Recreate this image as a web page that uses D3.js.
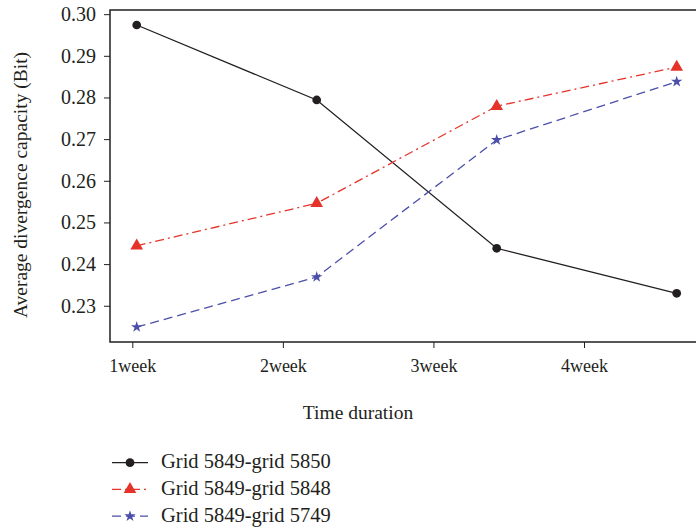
<!DOCTYPE html>
<html>
<head>
<meta charset="utf-8">
<script src="https://cdn.jsdelivr.net/npm/d3@7.9.0/dist/d3.min.js"></script>
<style>
  body { margin: 0; background: #fff; }
  svg text { font-family: "Liberation Serif", "DejaVu Serif", serif; fill: #231f20; }
</style>
</head>
<body>
<svg width="696" height="532"></svg>
<script>
// data
const weeks = ['1week', '2week', '3week', '4week'];
const yTicks = [0.23, 0.24, 0.25, 0.26, 0.27, 0.28, 0.29, 0.30];
const grid5850 = [0.2974, 0.2794, 0.2438, 0.2330];
const grid5848 = [0.2444, 0.2546, 0.2779, 0.2873];
const grid5749 = [0.2249, 0.2369, 0.2698, 0.2838];
const seriesNames = ['Grid 5849-grid 5850', 'Grid 5849-grid 5848', 'Grid 5849-grid 5749'];

const series = [
  { name: seriesNames[0], values: grid5850, color: '#231f20', dash: null, shape: d3.symbolCircle, size: 60 },
  { name: seriesNames[1], values: grid5848, color: '#e5332a', dash: '9,4,2,4', shape: d3.symbolTriangle, size: 70 },
  { name: seriesNames[2], values: grid5749, color: '#4b4faa', dash: '9,5', shape: d3.symbolStar, size: 40 }
];

const svg = d3.select('svg');
const mLeft = 110, mTop = 10, mBottom = 342, mRight = 700;

let y = d3.scaleLinear().domain([0.2213, 0.301]).range([mBottom, mTop]);
// points and tick labels do not line up in the original, so two x scales
let x = d3.scaleLinear().domain([0, 3]).range([136.7, 676.7]);
let xTick = d3.scalePoint().domain(weeks).range([132.3, 584]);

// frame (right edge falls outside the picture)
svg.append('path')
  .attr('d', `M${mRight},${mTop}H${mLeft}V${mBottom}H${mRight}`)
  .attr('fill', 'none').attr('stroke', '#231f20').attr('stroke-width', 1.5);

let yAxis = svg.append('g').attr('transform', `translate(${mLeft},0)`)
  .call(d3.axisLeft(y).tickValues(yTicks).tickFormat(d3.format('.2f')).tickSize(6).tickPadding(8));
yAxis.select('.domain').remove();
yAxis.selectAll('text').style('font-size', '20px');
yAxis.selectAll('line').attr('stroke', '#231f20');

let xAxis = svg.append('g').attr('transform', `translate(0,${mBottom})`)
  .call(d3.axisBottom(xTick).tickSize(6).tickPadding(11));
xAxis.select('.domain').remove();
xAxis.selectAll('text').style('font-size', '18px');
xAxis.selectAll('line').attr('stroke', '#231f20');

svg.append('text').attr('x', 358).attr('y', 419).attr('text-anchor', 'middle')
  .style('font-size', '19.5px').text('Time duration');
svg.append('text').attr('transform', 'translate(27,185) rotate(-90)').attr('text-anchor', 'middle')
  .style('font-size', '19.5px').text('Average divergence capacity (Bit)');

let line = d3.line().x((d, i) => x(i)).y(d => y(d));

series.forEach(s => {
  svg.append('path').attr('d', line(s.values))
    .attr('fill', 'none').attr('stroke', s.color).attr('stroke-width', 1.3)
    .attr('stroke-dasharray', s.dash);
  svg.selectAll(null).data(s.values).enter().append('path')
    .attr('d', d3.symbol().type(s.shape).size(s.size))
    .attr('transform', (d, i) => `translate(${x(i)},${y(d)})`)
    .attr('fill', s.color);
});

// legend
let legend = svg.append('g');
series.forEach((s, i) => {
  let ly = 462.7 + i * 26.7;
  legend.append('line').attr('x1', 112).attr('x2', 148).attr('y1', ly).attr('y2', ly)
    .attr('stroke', s.color).attr('stroke-width', 1.3).attr('stroke-dasharray', s.dash);
  legend.append('path').attr('d', d3.symbol().type(s.shape).size(s.size))
    .attr('transform', `translate(130,${ly})`).attr('fill', s.color);
  legend.append('text').attr('x', 161).attr('y', ly + 5.5).style('font-size', '20.5px').text(s.name);
});
</script>
</body>
</html>
